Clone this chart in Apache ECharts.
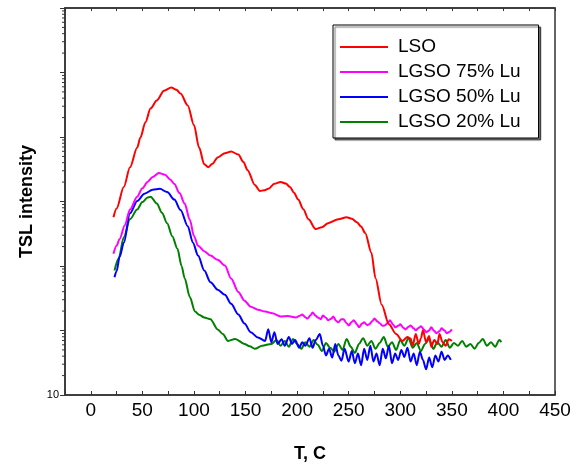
<!DOCTYPE html>
<html>
<head>
<meta charset="utf-8">
<script src="https://cdn.jsdelivr.net/npm/echarts@6/dist/echarts.min.js"></script>
<style>html,body{margin:0;padding:0;background:#fff}#c{width:578px;height:468px}</style>
</head>
<body>
<div id="c"></div>
<script>
// ---- data ----
var seriesNames = ['LSO', 'LGSO 75% Lu', 'LGSO 50% Lu', 'LGSO 20% Lu'];
var xTickLabels = [0, 50, 100, 150, 200, 250, 300, 350, 400, 450];
var yTickLabels = [10];

var lsoT = [22,25,32,38,45,48,53,58,64,71,78,83,87,94,100,105,110,114,118,123,130,136,143,148,152,159,164,168,172,178,184,189,193,197,201,206,211,218,224,230,240,248,253,258,262,266,272,276,282,289,296,302,307,310,312,315,318,320,322,325,328,330,333,336,338,341,344,347,350];
var lsoV = [5690,7800,16800,34000,68500,97300,170000,278000,368000,523000,583000,540000,471000,309000,153000,68500,37800,34000,38500,48300,56000,59500,53600,41000,30600,18100,14600,14900,15700,18800,20100,19000,16800,13700,10700,7600,5300,3740,4000,4610,5300,5690,5400,4770,4100,3250,1610,647,251,125,88,69,79,75,58,88,62,76,101,66,82,56,71,62,88,66,58,73,69];

var lgso75T = [22,25,28,33,38,45,50,55,60,66,72,77,81,86,91,96,100,104,110,116,123,130,136,143,149,155,162,169,176,184,191,199,202,205,208,210,213,215,218,220,223,225,228,230,233,235,238,240,243,245,248,250,253,255,258,260,263,265,268,270,273,275,278,280,283,285,288,290,293,295,298,300,303,305,308,310,313,315,318,320,323,325,328,330,333,335,338,340,343,345,348,350];
var lgso75V = [1550,2060,2630,4300,7530,11900,16000,20100,24000,27600,26000,22000,18700,13500,9290,5200,2920,2060,1700,1450,1250,1020,640,396,290,234,210,197,185,165,168,159,168,177,160,153,172,190,170,159,150,171,158,144,152,165,140,134,150,149,130,120,136,144,125,112,128,134,121,125,140,153,138,130,118,120,132,144,124,112,118,125,110,104,114,120,108,101,110,116,104,94,100,112,98,91,97,108,100,91,96,104];

var lgso50T = [23,25,28,32,38,45,52,60,67,74,81,87,94,99,104,110,116,123,130,136,143,149,155,162,169,172,175,178,181,185,188,192,195,198,202,205,208,212,215,218,222,225,228,231,234,237,240,243,246,250,253,256,259,262,265,268,271,274,277,280,283,286,289,292,295,298,301,304,307,310,313,316,319,322,325,328,331,334,337,340,343,346,349];
var lgso50V = [670,830,1400,2290,6550,10200,13200,15200,15700,14000,10700,7400,4150,2300,1450,850,562,430,357,260,177,128,94,78,69,105,66,94,62,73,58,79,62,71,54,66,58,76,54,71,88,58,41,52,38,62,41,34,52,33,48,31,44,29,52,35,58,33,44,29,52,37,58,31,44,35,50,39,54,33,44,29,47,35,25,38,27,41,33,47,35,41,35];

var lgso20T = [23,27,32,38,45,50,55,58,64,69,74,79,84,88,91,96,101,105,110,116,123,128,133,140,149,154,159,166,175,180,184,188,192,196,200,204,208,212,216,220,224,228,232,236,240,244,248,252,256,260,264,268,272,276,280,284,288,292,296,300,304,308,312,316,320,324,328,332,336,340,344,348,352,356,360,364,368,372,376,380,384,388,392,396,398];
var lgso20V = [850,1310,2800,5300,7530,9800,11500,11900,9290,6700,4610,2900,1850,1000,647,330,197,175,159,150,104,88,69,74,62,57,52,58,62,71,58,69,56,74,62,52,66,56,71,60,48,64,54,47,62,50,74,56,45,62,76,58,69,52,64,79,56,66,50,71,58,76,54,64,48,62,74,52,66,56,71,54,64,58,69,56,62,52,64,74,58,66,56,71,66];

var colors = ['#ff0000', '#ff00ff', '#0000ff', '#008000'];

function zip(t, v) { var out = []; for (var i = 0; i < t.length; i++) out.push([t[i], v[i]]); return out; }

// minor tick values for the log axis (2..9 within each decade)
var minorVals = [];
for (var d = 1; d < 7; d++) for (var k = 2; k <= 9; k++) minorVals.push([-25, k * Math.pow(10, d)]);

var chart = echarts.init(document.getElementById('c'), null, {renderer: 'canvas'});
var axisCol = '#333';
var font = 'Liberation Sans, Arial, sans-serif';

var lineData = [zip(lsoT, lsoV), zip(lgso75T, lgso75V), zip(lgso50T, lgso50V), zip(lgso20T, lgso20V)];
var series = seriesNames.map(function (n, i) {
  return {
    name: n, type: 'line', data: lineData[i], showSymbol: false, symbol: 'none',
    smooth: 0.3, smoothMonotone: 'x',
    lineStyle: {color: colors[i], width: 2}, itemStyle: {color: colors[i]},
    animation: false, z: 3 + (3 - i)
  };
});
series.push({
  type: 'custom', data: minorVals, clip: false, silent: true, animation: false,
  renderItem: function (params, api) {
    var p = api.coord([api.value(0), api.value(1)]);
    return {type: 'line', shape: {x1: p[0] - 3, y1: p[1], x2: p[0], y2: p[1]},
            style: {stroke: axisCol, lineWidth: 1}};
  }
});

chart.setOption({
  animation: false,
  backgroundColor: '#fff',
  grid: {left: 65, right: 23, top: 8, bottom: 60, show: true, borderColor: axisCol, borderWidth: 1.5, backgroundColor: 'transparent'},
  legend: {
    data: seriesNames, orient: 'vertical', left: 333, top: 25,
    backgroundColor: '#fff', borderColor: '#000', borderWidth: 1,
    shadowColor: 'rgba(0,0,0,0.55)', shadowOffsetX: 2, shadowOffsetY: 2, shadowBlur: 1,
    padding: [12, 18, 6, 7], itemGap: 5, itemWidth: 48, itemHeight: 2, icon: 'rect',
    textStyle: {fontFamily: font, fontSize: 19, color: '#000', padding: [0, 0, 0, 5], lineHeight: 20}
  },
  xAxis: [{
    type: 'value', min: -25, max: 450, interval: 25, position: 'bottom',
    axisLine: {show: true, onZero: false, lineStyle: {color: axisCol, width: 1.5}},
    axisTick: {show: true, inside: true, length: 4, lineStyle: {color: axisCol}},
    splitLine: {show: false},
    axisLabel: {fontFamily: font, fontSize: 19, color: '#000', margin: 6,
      formatter: function (v) { return xTickLabels.indexOf(v) >= 0 ? String(v) : ''; }},
    name: 'T, C', nameLocation: 'middle', nameGap: 50,
    nameTextStyle: {fontFamily: font, fontSize: 18, fontWeight: 'bold', color: '#000'}
  }, {
    type: 'value', min: -25, max: 450, interval: 25, position: 'top',
    axisLine: {show: true, onZero: false, lineStyle: {color: axisCol, width: 1.5}},
    axisTick: {show: true, inside: true, length: 3, lineStyle: {color: axisCol}},
    axisLabel: {show: false}, splitLine: {show: false}
  }],
  yAxis: [{
    type: 'log', logBase: 10, min: 10, max: 1e7, position: 'left',
    axisLine: {show: true, onZero: false, lineStyle: {color: axisCol, width: 1.5}},
    axisTick: {show: true, inside: false, length: 5, lineStyle: {color: axisCol}},
    splitLine: {show: false}, minorTick: {show: false},
    axisLabel: {fontFamily: font, fontSize: 11, color: '#000', margin: 6,
      formatter: function (v) { return yTickLabels.indexOf(Math.round(v)) >= 0 ? String(Math.round(v)) : ''; }},
    name: 'TSL intensity', nameLocation: 'middle', nameGap: 27, nameRotate: 90,
    nameTextStyle: {fontFamily: font, fontSize: 18, fontWeight: 'bold', color: '#000'}
  }],
  series: series
});
</script>
</body>
</html>
